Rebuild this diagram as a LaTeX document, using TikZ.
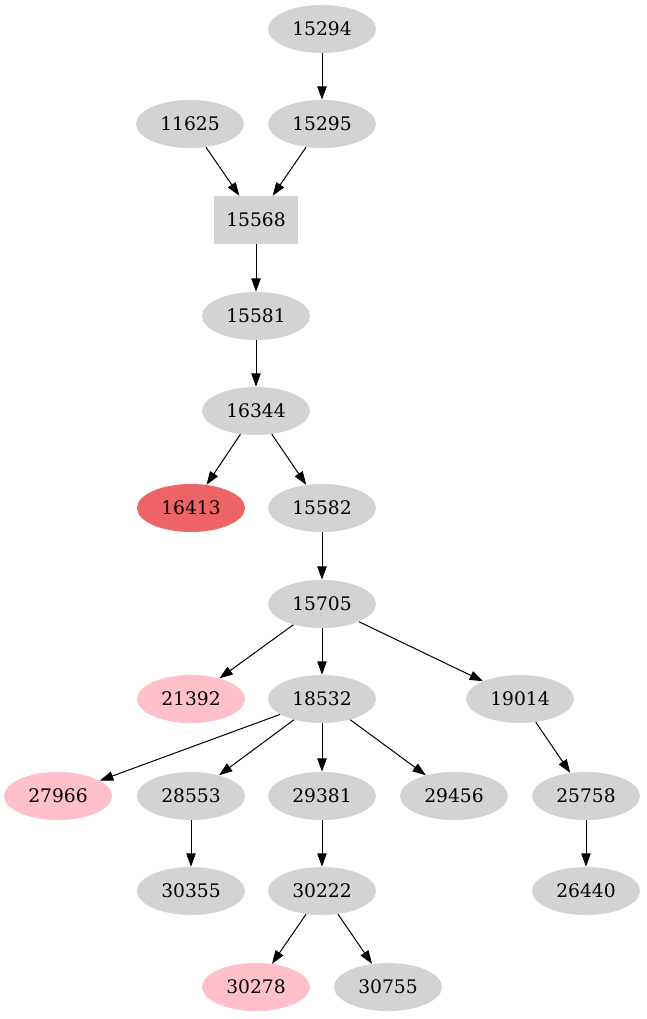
\documentclass[tikz,border=0pt]{standalone}
\usepackage{fontspec}
\setmainfont{DejaVu Serif}
\usetikzlibrary{shapes.geometric,arrows.meta}
\definecolor{gv}{HTML}{D3D3D3}
\definecolor{pk}{HTML}{FFC0CB}
\definecolor{rd}{HTML}{EE6363}
\begin{document}
\begin{tikzpicture}[x=0.75pt,y=-0.75pt,
  nd/.style={ellipse,fill=gv,inner sep=0pt,minimum width=81pt,minimum height=36pt,font=\fontsize{14pt}{16pt}\selectfont},
  pnk/.style={nd,fill=pk},
  red/.style={nd,fill=rd},
  bx/.style={rectangle,fill=gv,inner sep=0pt,minimum width=63pt,minimum height=36pt,font=\fontsize{14pt}{16pt}\selectfont},
  ed/.style={draw=black,line width=0.75pt,-{Triangle[length=10pt,width=7pt]}}]
\useasboundingbox (0,0) rectangle (646,1019);
\node[nd] (n15294) at (322,29) {15294};
\node[nd] (n15295) at (322,124) {15295};
\node[nd] (n11625) at (190,124) {11625};
\node[bx] (n15568) at (256,220) {15568};
\node[nd] (n15581) at (256,316) {15581};
\node[nd] (n16344) at (256,411) {16344};
\node[red] (n16413) at (191,508) {16413};
\node[nd] (n15582) at (322,508) {15582};
\node[nd] (n15705) at (322,604) {15705};
\node[pnk] (n21392) at (191,699) {21392};
\node[nd] (n18532) at (322,699) {18532};
\node[nd] (n19014) at (520,699) {19014};
\node[pnk] (n27966) at (58,796) {27966};
\node[nd] (n28553) at (191,796) {28553};
\node[nd] (n29381) at (322,796) {29381};
\node[nd] (n29456) at (454,796) {29456};
\node[nd] (n25758) at (586,796) {25758};
\node[nd] (n30355) at (191,891) {30355};
\node[nd] (n30222) at (322,891) {30222};
\node[nd] (n26440) at (586,891) {26440};
\node[pnk] (n30278) at (256,987) {30278};
\node[nd] (n30755) at (388,987) {30755};
\draw[ed] (n15294) -- (n15295);
\draw[ed] (n11625) -- (n15568);
\draw[ed] (n15295) -- (n15568);
\draw[ed] (n15568) -- (n15581);
\draw[ed] (n15581) -- (n16344);
\draw[ed] (n16344) -- (n16413);
\draw[ed] (n16344) -- (n15582);
\draw[ed] (n15582) -- (n15705);
\draw[ed] (n15705) -- (n21392);
\draw[ed] (n15705) -- (n18532);
\draw[ed] (n15705) -- (n19014);
\draw[ed] (n18532) -- (n27966);
\draw[ed] (n18532) -- (n28553);
\draw[ed] (n18532) -- (n29381);
\draw[ed] (n18532) -- (n29456);
\draw[ed] (n19014) -- (n25758);
\draw[ed] (n28553) -- (n30355);
\draw[ed] (n29381) -- (n30222);
\draw[ed] (n25758) -- (n26440);
\draw[ed] (n30222) -- (n30278);
\draw[ed] (n30222) -- (n30755);
\end{tikzpicture}
\end{document}
